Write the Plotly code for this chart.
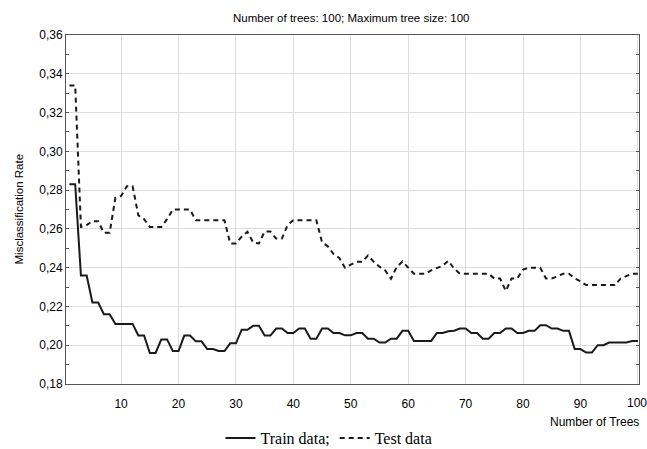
import plotly.graph_objects as go

trees = list(range(1, 101))

train_rate = [
    0.283, 0.283, 0.236, 0.236, 0.222, 0.222, 0.216, 0.216, 0.211, 0.211,
    0.211, 0.211, 0.205, 0.205, 0.196, 0.196, 0.203, 0.203, 0.197, 0.197,
    0.205, 0.205, 0.202, 0.202, 0.198, 0.198, 0.197, 0.197, 0.201, 0.201,
    0.208, 0.208, 0.210, 0.210, 0.205, 0.205, 0.2086, 0.2086, 0.2063, 0.2063,
    0.2086, 0.2086, 0.2034, 0.2034, 0.2086, 0.2086, 0.2063, 0.2063, 0.2051, 0.2051,
    0.2063, 0.2063, 0.2034, 0.2034, 0.2014, 0.2014, 0.2034, 0.2034, 0.2074, 0.2074,
    0.2022, 0.2022, 0.2022, 0.2022, 0.2063, 0.2063, 0.2072, 0.2075, 0.2086, 0.2086,
    0.2063, 0.2063, 0.2034, 0.2034, 0.2063, 0.2063, 0.2086, 0.2086, 0.2063, 0.2063,
    0.2074, 0.2074, 0.2103, 0.2103, 0.2086, 0.2086, 0.2074, 0.2074, 0.198, 0.198,
    0.1962, 0.1962, 0.200, 0.200, 0.2014, 0.2014, 0.2014, 0.2014, 0.2022, 0.2022,
]

test_rate = [
    0.334, 0.334, 0.261, 0.262, 0.264, 0.264, 0.258, 0.258, 0.276, 0.277,
    0.282, 0.282, 0.267, 0.265, 0.261, 0.261, 0.261, 0.265, 0.270, 0.270,
    0.270, 0.270, 0.2644, 0.2644, 0.2644, 0.2644, 0.2644, 0.2644, 0.2525, 0.2525,
    0.256, 0.2585, 0.253, 0.2525, 0.2586, 0.2586, 0.255, 0.255, 0.262, 0.2645,
    0.2645, 0.2645, 0.2645, 0.2645, 0.253, 0.251, 0.247, 0.245, 0.240, 0.2415,
    0.243, 0.243, 0.2463, 0.243, 0.2405, 0.2386, 0.2343, 0.2403, 0.2432, 0.240,
    0.2369, 0.2369, 0.2369, 0.2386, 0.240, 0.241, 0.2435, 0.2395, 0.2369, 0.2369,
    0.2369, 0.2369, 0.2369, 0.2369, 0.2344, 0.2344, 0.228, 0.2344, 0.2344, 0.239,
    0.240, 0.240, 0.240, 0.2344, 0.2344, 0.2355, 0.2369, 0.2369, 0.2344, 0.233,
    0.231, 0.231, 0.231, 0.231, 0.231, 0.231, 0.2344, 0.2355, 0.2369, 0.2369,
]

y_ticks = [0.18, 0.20, 0.22, 0.24, 0.26, 0.28, 0.30, 0.32, 0.34, 0.36]
x_ticks = [10, 20, 30, 40, 50, 60, 70, 80, 90, 100]
x_labels = ["10", "20", "30", "40", "50", "60", "70", "80", "90", "100"]

title_text = "Number of trees: 100; Maximum tree size: 100"
x_title = "Number of Trees"
y_title = "Misclassification Rate"

fig = go.Figure()
fig.add_trace(go.Scatter(x=trees, y=train_rate, mode="lines", name="Train data;",
                         line=dict(color="#1a1a1a", width=2)))
fig.add_trace(go.Scatter(x=trees, y=test_rate, mode="lines", name="Test data",
                         line=dict(color="#1a1a1a", width=2, dash="5px,4px")))

W, H = 647, 449
L, T = 66, 35
plot_right, plot_bottom = 639, 384
R, B = W - plot_right, H - plot_bottom
pw, ph = plot_right - L, plot_bottom - T


def px(sx):
    return (sx - L) / pw


def py(sy):
    return (plot_bottom - sy) / ph


axis_font = dict(family="Liberation Sans, Arial", size=12, color="#000")

# last x label drawn as an annotation so it is not dropped at the right edge
tick_text = x_labels[:-1] + [""]

annotations = [
    dict(text=title_text, xref="paper", yref="paper",
         x=px(351), y=py(18), xanchor="center", yanchor="middle",
         showarrow=False, font=dict(family="Liberation Sans, Arial", size=11.5, color="#000")),
    dict(text=x_title, xref="paper", yref="paper",
         x=px(641), y=py(422), xanchor="right", yanchor="middle",
         showarrow=False, font=dict(family="Liberation Sans, Arial", size=12, color="#000")),
    dict(text=y_title, xref="paper", yref="paper",
         x=px(18), y=0.5, xanchor="center", yanchor="middle", textangle=-90,
         showarrow=False, font=dict(family="Liberation Sans, Arial", size=11.5, color="#000")),
    dict(text=x_labels[-1], xref="x", yref="paper", x=x_ticks[-1], y=py(403),
         xanchor="center", yanchor="middle", xshift=-1, showarrow=False, font=axis_font),
]

fig.update_layout(
    width=W, height=H,
    margin=dict(l=L, r=R, t=T, b=B, autoexpand=False),
    paper_bgcolor="white", plot_bgcolor="white",
    separators=",.",
    showlegend=True,
    legend=dict(orientation="h", x=px(329), xanchor="center",
                y=py(438), yanchor="middle",
                font=dict(family="Liberation Serif, Times New Roman", size=16, color="#000"),
                itemwidth=30, bgcolor="rgba(0,0,0,0)"),
    xaxis=dict(range=[0.4, 100.2], tickvals=x_ticks, ticktext=tick_text,
               showgrid=True, gridcolor="#dddddd", gridwidth=1,
               showline=True, linecolor="#555", linewidth=1, mirror=True,
               ticks="", tickfont=axis_font, ticklabelstandoff=9,
               zeroline=False, automargin=False),
    yaxis=dict(range=[0.18, 0.36], tickvals=y_ticks, tickformat=".2f",
               showgrid=True, gridcolor="#dddddd", gridwidth=1,
               showline=True, linecolor="#555", linewidth=1, mirror="allticks",
               ticks="inside", ticklen=3, tickcolor="#555",
               minor=dict(dtick=0.01, tick0=0.18, ticks="inside", ticklen=3,
                          tickcolor="#555", showgrid=False),
               tickfont=axis_font, zeroline=False, automargin=False),
    annotations=annotations,
)

fig.write_html(
    "out.html",
    config={"displayModeBar": False},
    post_script="document.body.style.margin='0';document.body.style.overflow='hidden';",
)
